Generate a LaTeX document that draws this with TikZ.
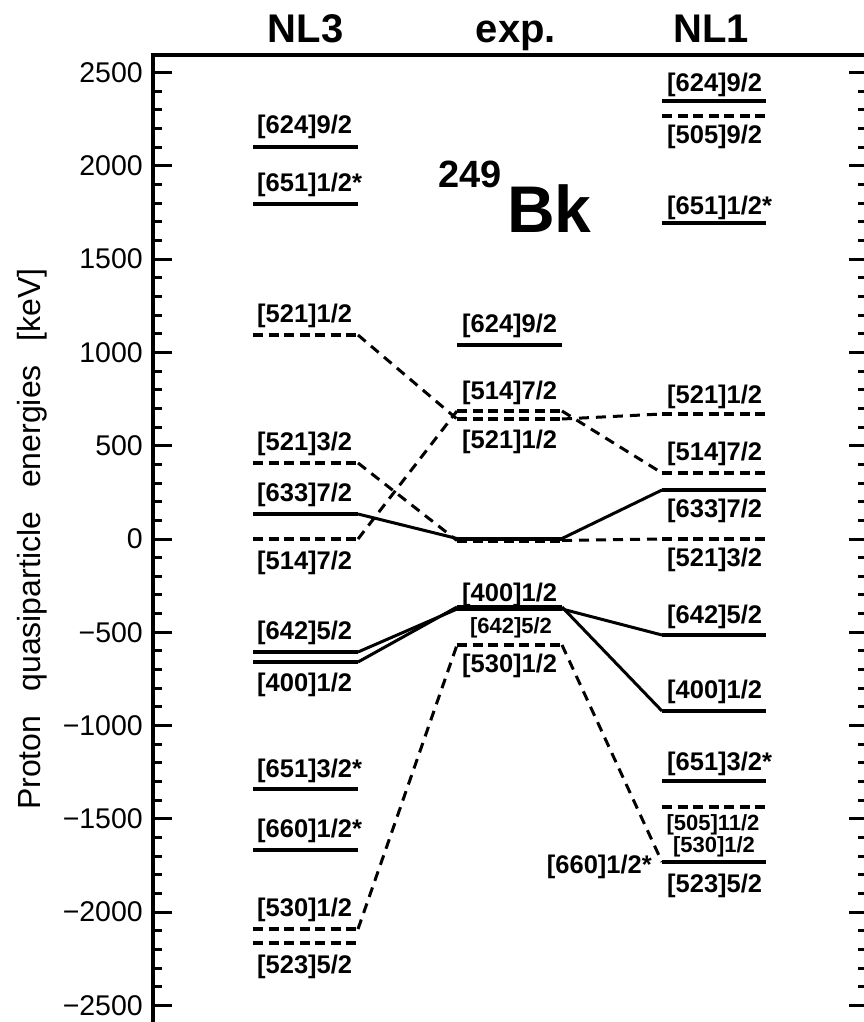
\documentclass[tikz,border=0pt]{standalone}
\usepackage{fontspec}
\setmainfont{Liberation Sans}
\begin{document}
\begin{tikzpicture}[x=1pt,y=-1pt,
  lev/.style={line width=4pt},
  levd/.style={line width=4pt, dash pattern=on 10pt off 5.5pt},
  conn/.style={line width=3pt},
  connd/.style={line width=3pt, dash pattern=on 10pt off 7pt},
  lab/.style={font=\bfseries\fontsize{25.5}{25.5}\selectfont, inner sep=0pt, anchor=base west},
  labs/.style={font=\bfseries\fontsize{22}{22}\selectfont, inner sep=0pt, anchor=base},
  tickmark/.style={line width=3pt},
  axisline/.style={line width=3.5pt},
  ticklab/.style={font=\fontsize{28.5}{28.5}\selectfont, inner sep=0pt, anchor=east},
  head/.style={font=\bfseries\fontsize{40}{40}\selectfont, inner sep=0pt, anchor=base}
]
\useasboundingbox (0,0) rectangle (864,1022);

% ---------- frame ----------
\coordinate (tl) at (153,55);
\coordinate (tr) at (866,55);
\coordinate (bl) at (153,1026);
\coordinate (br) at (866,1026);
\draw[axisline] (bl) -- (tl) -- (tr);
\draw[axisline] (tr) -- (br);
\foreach \e in {-2500,-2400,...,2500}{
  \draw[tickmark] (153,{539-0.18656*\e}) -- (162,{539-0.18656*\e});
  \draw[tickmark] (866,{539-0.18656*\e}) -- (858,{539-0.18656*\e});
}
\foreach \e in {-2500,-2000,...,2500}{
  \draw[tickmark] (153,{539-0.18656*\e}) -- (172,{539-0.18656*\e});
  \draw[tickmark] (866,{539-0.18656*\e}) -- (849,{539-0.18656*\e});
}
\foreach \e/\t in {2500/2500,2000/2000,1500/1500,1000/1000,500/500,0/0,-500/−500,-1000/−1000,-1500/−1500,-2000/−2000,-2500/−2500}{
  \node[ticklab] at (143,{539-0.18656*\e}) {\t};
}
\node[rotate=90, anchor=base, inner sep=0pt, font=\fontsize{32}{32}\selectfont] (ylab) at (40,539)
  {Proton\hspace{0.75em}quasiparticle\hspace{0.75em}energies\hspace{0.75em}[keV]};

% ---------- headers ----------
\node[head] (hNL3) at (305.5,43) {NL3};
\node[head] (hexp) at (516,43) {exp.};
\node[head] (hNL1) at (711,43) {NL1};
\node[font=\bfseries\fontsize{38}{38}\selectfont, inner sep=0pt, anchor=base west] (mass) at (438,187) {249};
\node[font=\bfseries\fontsize{66}{66}\selectfont, inner sep=0pt, anchor=base west] (elem) at (507,232) {Bk};

% ---------- NL3 levels ----------
\foreach \n/\y in {a1/147,a2/204,a3/335,a4/463,a5/514,a6/539,a7/652,a8/662,a9/789,a10/850,a11/929,a12/943}{
  \coordinate (\n-l) at (253,\y);
  \coordinate (\n-r) at (358,\y);
}
\draw[lev] (a1-l) -- (a1-r);
\draw[lev] (a2-l) -- (a2-r);
\draw[levd] (a3-l) -- (a3-r);
\draw[levd] (a4-l) -- (a4-r);
\draw[lev] (a5-l) -- (a5-r);
\draw[levd] (a6-l) -- (a6-r);
\draw[lev] (a7-l) -- (a7-r);
\draw[lev] (a8-l) -- (a8-r);
\draw[lev] (a9-l) -- (a9-r);
\draw[lev] (a10-l) -- (a10-r);
\draw[levd] (a11-l) -- (a11-r);
\draw[levd] (a12-l) -- (a12-r);
\node[lab] (ta1) at (257,133) {[624]9/2};
\node[lab] (ta2) at (257,191) {[651]1/2*};
\node[lab] (ta3) at (257,322) {[521]1/2};
\node[lab] (ta4) at (257,450) {[521]3/2};
\node[lab] (ta5) at (257,501) {[633]7/2};
\node[lab] (ta6) at (257,569) {[514]7/2};
\node[lab] (ta7) at (257,639) {[642]5/2};
\node[lab] (ta8) at (257,691) {[400]1/2};
\node[lab] (ta9) at (257,777) {[651]3/2*};
\node[lab] (ta10) at (257,837) {[660]1/2*};
\node[lab] (ta11) at (257,916) {[530]1/2};
\node[lab] (ta12) at (257,973) {[523]5/2};

% ---------- exp levels ----------
\foreach \n/\y in {b1/345,b2/411,b3/419,b4/538.5,b5/540.5,b6/607,b7/609,b8/645}{
  \coordinate (\n-l) at (457,\y);
  \coordinate (\n-r) at (562,\y);
}
\draw[lev] (b1-l) -- (b1-r);
\draw[levd] (b2-l) -- (b2-r);
\draw[levd] (b3-l) -- (b3-r);
\draw[levd] (b5-l) -- (b5-r);
\draw[lev] (b4-l) -- (b4-r);
\draw[lev] (b7-l) -- (b7-r);
\draw[lev] (b6-l) -- (b6-r);
\draw[levd] (b8-l) -- (b8-r);
\node[lab] (tb1) at (462,332) {[624]9/2};
\node[lab] (tb2) at (462,399) {[514]7/2};
\node[lab] (tb3) at (462,448) {[521]1/2};
\node[lab] (tb6) at (462,601) {[400]1/2};
\node[labs] (tb7) at (511,633) {[642]5/2};
\node[lab] (tb8) at (462,672) {[530]1/2};

% ---------- NL1 levels ----------
\foreach \n/\y in {c1/101,c2/116,c3/223,c4/414,c5/473,c6/490,c7/539,c8/635,c9/711,c10/781,c11/807,c12/862,c13/862}{
  \coordinate (\n-l) at (662,\y);
  \coordinate (\n-r) at (766,\y);
}
\draw[lev] (c1-l) -- (c1-r);
\draw[levd] (c2-l) -- (c2-r);
\draw[lev] (c3-l) -- (c3-r);
\draw[levd] (c4-l) -- (c4-r);
\draw[levd] (c5-l) -- (c5-r);
\draw[lev] (c6-l) -- (c6-r);
\draw[levd] (c7-l) -- (c7-r);
\draw[lev] (c8-l) -- (c8-r);
\draw[lev] (c9-l) -- (c9-r);
\draw[lev] (c10-l) -- (c10-r);
\draw[levd] (c11-l) -- (c11-r);
\draw[levd] (c12-l) -- (c12-r);
\draw[lev] (c13-l) -- (c13-r);
\node[lab] (tc1) at (667,92) {[624]9/2};
\node[lab] (tc2) at (667,143) {[505]9/2};
\node[lab] (tc3) at (667,214) {[651]1/2*};
\node[lab] (tc4) at (667,403) {[521]1/2};
\node[lab] (tc5) at (667,460) {[514]7/2};
\node[lab] (tc6) at (667,517) {[633]7/2};
\node[lab] (tc7) at (667,566) {[521]3/2};
\node[lab] (tc8) at (667,623) {[642]5/2};
\node[lab] (tc9) at (667,698) {[400]1/2};
\node[lab] (tc10) at (667,770) {[651]3/2*};
\node[labs] (tc11) at (713,830) {[505]11/2};
\node[labs] (tc12) at (714,852) {[530]1/2};
\node[lab] (tc13) at (667,892) {[523]5/2};
\node[lab, anchor=base east] (tc14) at (652,873) {[660]1/2*};

% ---------- connectors NL3 -> exp ----------
\draw[connd] (a3-r) -- (b3-l);
\draw[connd] (a6-r) -- (b2-l);
\draw[connd] (a4-r) -- (b5-l);
\draw[conn] (a5-r) -- (b4-l);
\draw[conn] (a7-r) -- (b7-l);
\draw[conn] (a8-r) -- (b6-l);
\draw[connd] (a11-r) -- (b8-l);
% ---------- connectors exp -> NL1 ----------
\draw[connd] (b3-r) -- (c4-l);
\draw[connd] (b2-r) -- (c5-l);
\draw[conn] (b4-r) -- (c6-l);
\draw[connd] (b5-r) -- (c7-l);
\draw[conn] (b7-r) -- (c8-l);
\draw[conn] (b6-r) -- (c9-l);
\draw[connd] (b8-r) -- (c12-l);
\end{tikzpicture}
\end{document}
